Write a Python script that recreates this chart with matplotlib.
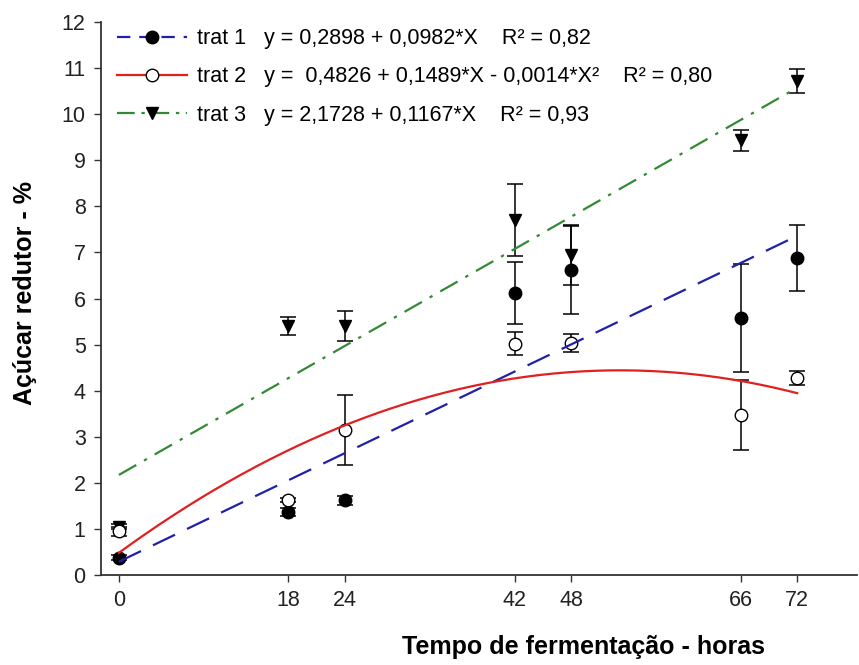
import numpy as np
import matplotlib
matplotlib.use("Agg")
import matplotlib.pyplot as plt
from matplotlib.lines import Line2D

# horas de fermentacao
tempo = [0, 18, 24, 42, 48, 66, 72]

# medias e erros
trat1 = [0.38, 1.37, 1.62, 6.12, 6.62, 5.57, 6.88]
trat1_err = [0.06, 0.08, 0.10, 0.68, 0.95, 1.17, 0.72]
trat2 = [0.95, 1.63, 3.15, 5.02, 5.03, 3.47, 4.27]
trat2_err = [0.10, 0.05, 0.76, 0.25, 0.20, 0.76, 0.15]
trat3 = [1.05, 5.40, 5.40, 7.70, 6.95, 9.43, 10.72]
trat3_err = [0.06, 0.20, 0.33, 0.78, 0.65, 0.23, 0.25]

# coeficientes das regressoes (legenda)
coef1 = [0.2898, 0.0982]
coef2 = [0.4826, 0.1489, -0.0014]
coef3 = [2.1728, 0.1167]

rotulos = [
    "trat 1   y = 0,2898 + 0,0982*X    R² = 0,82",
    "trat 2   y =  0,4826 + 0,1489*X - 0,0014*X²    R² = 0,80",
    "trat 3   y = 2,1728 + 0,1167*X    R² = 0,93",
]

plt.rcParams["font.family"] = ["Liberation Sans", "DejaVu Sans"]

AZUL = "#2020a8"
VERM = "#e02020"
VERDE = "#348a34"

fig = plt.figure(figsize=(8.59, 6.65), dpi=100)
ax = fig.add_axes([0.1176, 0.1353, 0.8801, 0.8316])

kw = dict(ls="none", ecolor="black", elinewidth=1.1, capsize=6, capthick=1.1,
          markeredgecolor="black", markersize=9, zorder=3)
ax.errorbar(tempo, trat3, yerr=trat3_err, marker="v", markerfacecolor="black", **kw)
ax.errorbar(tempo, trat1, yerr=trat1_err, marker="o", markerfacecolor="black", **kw)
ax.errorbar(tempo, trat2, yerr=trat2_err, marker="o", markerfacecolor="white", **kw)

xs = np.linspace(tempo[0], tempo[-1], 200)
ax.plot(xs, np.polyval(coef1[::-1], xs), color=AZUL, lw=1.6, dashes=(11, 6), zorder=4)
ax.plot(xs, np.polyval(coef2[::-1], xs), color=VERM, lw=1.6, zorder=4)
ax.plot(xs, np.polyval(coef3[::-1], xs), color=VERDE, lw=1.6, dashes=(9, 4, 1.5, 4), zorder=4)

handles = [
    Line2D([], [], color=AZUL, lw=1.6, dashes=(6, 4), marker="o",
           markerfacecolor="black", markeredgecolor="black", markersize=9),
    Line2D([], [], color=VERM, lw=1.6, marker="o",
           markerfacecolor="white", markeredgecolor="black", markersize=9),
    Line2D([], [], color=VERDE, lw=1.6, dashes=(8, 3, 1.5, 3), marker="v",
           markerfacecolor="black", markeredgecolor="black", markersize=9),
]
ax.legend(handles, rotulos, loc="upper left", bbox_to_anchor=(0.021, 0.989),
          frameon=False, fontsize=15.5, handlelength=3.25, handletextpad=0.47,
          labelspacing=0.8, borderpad=0, borderaxespad=0)

ax.set_xlim(-1.9, 78.35)
ax.set_ylim(0, 12)
ax.set_xticks(tempo)
ax.set_yticks(range(0, 13))
ax.spines["top"].set_visible(False)
ax.spines["right"].set_visible(False)
for s in ("left", "bottom"):
    ax.spines[s].set_linewidth(1.3)
    ax.spines[s].set_color("#333333")
ax.tick_params(direction="out", length=5, width=1, labelsize=15.5,
               colors="#333333", labelcolor="#222222", pad=6)

ax.set_xlabel("Tempo de fermentação - horas", fontsize=18, fontweight="bold")
ax.set_ylabel("Açúcar redutor - %", fontsize=18, fontweight="bold")
ax.xaxis.set_label_coords(0.6376, -0.108)
ax.yaxis.set_label_coords(-0.085, 0.51)

fig.savefig("out.png", dpi=100)
